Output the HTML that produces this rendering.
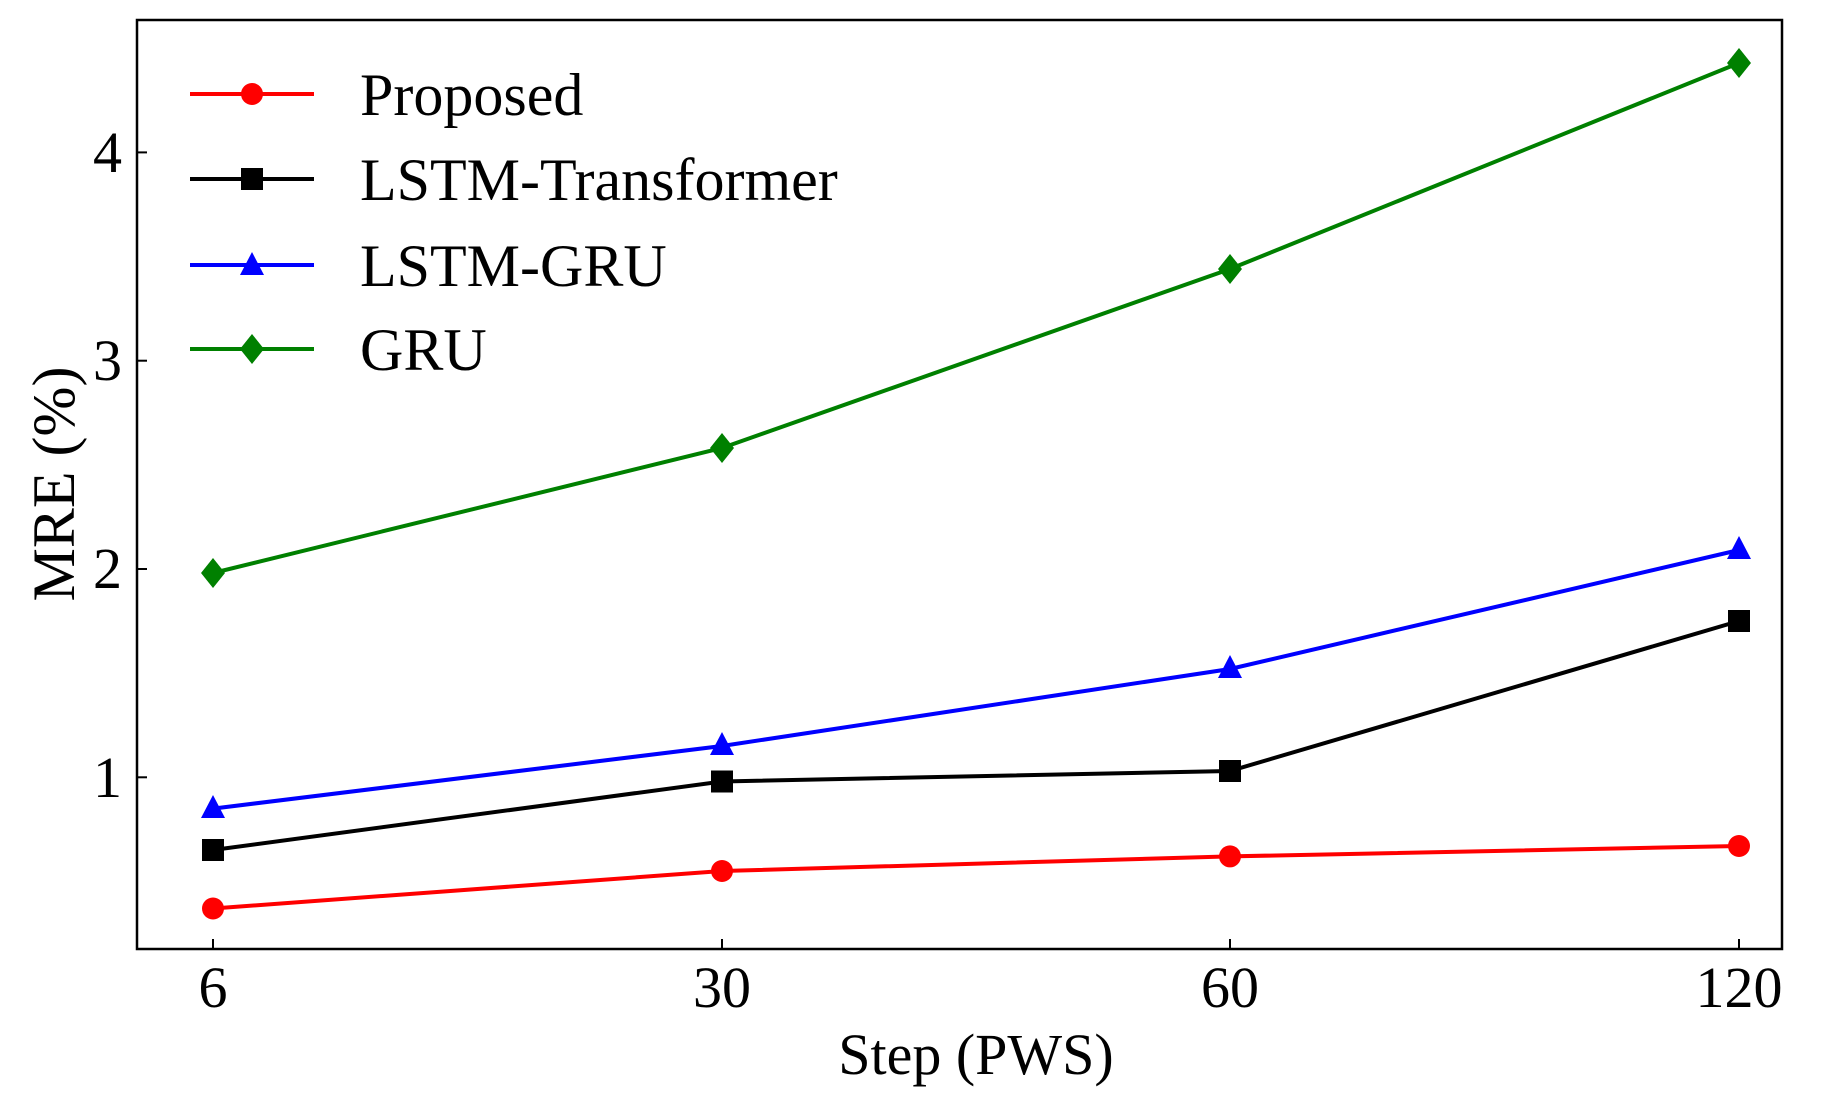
<!DOCTYPE html>
<html><head><meta charset="utf-8"><style>body{margin:0;background:#fff}</style></head>
<body>
<svg width="1837" height="1098" viewBox="0 0 1837 1098" xmlns="http://www.w3.org/2000/svg" font-family="Liberation Serif, serif">
<rect width="1837" height="1098" fill="#fff"/>
<g stroke="#000" stroke-width="2">
<line x1="213" y1="949" x2="213" y2="939"/><line x1="722" y1="949" x2="722" y2="939"/>
<line x1="1230" y1="949" x2="1230" y2="939"/><line x1="1739" y1="949" x2="1739" y2="939"/>
<line x1="137" y1="152.4" x2="147" y2="152.4"/><line x1="137" y1="360.7" x2="147" y2="360.7"/>
<line x1="137" y1="569" x2="147" y2="569"/><line x1="137" y1="777.3" x2="147" y2="777.3"/>
</g>
<g font-size="58" text-anchor="middle" fill="#000">
<text x="213" y="1007">6</text><text x="722" y="1007">30</text><text x="1230" y="1007">60</text><text x="1739" y="1007">120</text>
<text x="976" y="1074">Step (PWS)</text>
</g>
<g font-size="58" text-anchor="end" fill="#000">
<text x="122" y="172">4</text><text x="122" y="380">3</text><text x="122" y="588">2</text><text x="122" y="797">1</text>
</g>
<text font-size="60" text-anchor="middle" transform="translate(74,484) rotate(-90)">MRE (%)</text>
<g fill="none" stroke-width="4">
<polyline stroke="#ff0000" points="213,908.5 722,871 1230,856.4 1739,846"/>
<polyline stroke="#000" points="213,850 722,781.5 1230,771 1739,621"/>
<polyline stroke="#0000ff" points="213,808.6 722,746 1230,669 1739,550"/>
<polyline stroke="#008000" points="213,573 722,448 1230,269 1739,63"/>
</g>
<g fill="#ff0000"><circle cx="213" cy="908.5" r="11"/><circle cx="722" cy="871" r="11"/><circle cx="1230" cy="856.4" r="11"/><circle cx="1739" cy="846" r="11"/></g>
<g fill="#000"><rect x="202" y="839" width="22" height="22"/><rect x="711" y="770.5" width="22" height="22"/><rect x="1219" y="760" width="22" height="22"/><rect x="1728" y="610" width="22" height="22"/></g>
<g fill="#0000ff"><polygon points="213,795 225,818 201,818"/><polygon points="722,732 734,755 710,755"/><polygon points="1230,655 1242,678 1218,678"/><polygon points="1739,536 1751,559 1727,559"/></g>
<g fill="#008000"><polygon points="213,558 225,573 213,588 201,573"/><polygon points="722,433 734,448 722,463 710,448"/><polygon points="1230,254 1242,269 1230,284 1218,269"/><polygon points="1739,48 1751,63 1739,78 1727,63"/></g>
<g stroke-width="4">
<line x1="190" y1="94" x2="314" y2="94" stroke="#ff0000"/>
<line x1="190" y1="179" x2="314" y2="179" stroke="#000"/>
<line x1="190" y1="265" x2="314" y2="265" stroke="#0000ff"/>
<line x1="190" y1="349" x2="314" y2="349" stroke="#008000"/>
</g>
<circle cx="252" cy="94" r="11" fill="#ff0000"/>
<rect x="241" y="168" width="22" height="22" fill="#000"/>
<polygon points="252,252 264,275 240,275" fill="#0000ff"/>
<polygon points="252,334 264,349 252,364 240,349" fill="#008000"/>
<g font-size="60" fill="#000">
<text x="360" y="115">Proposed</text>
<text x="360" y="200">LSTM-Transformer</text>
<text x="360" y="286">LSTM-GRU</text>
<text x="360" y="370">GRU</text>
</g>
<rect x="137" y="20" width="1645" height="929" fill="none" stroke="#000" stroke-width="2.5"/>
</svg>
</body></html>
